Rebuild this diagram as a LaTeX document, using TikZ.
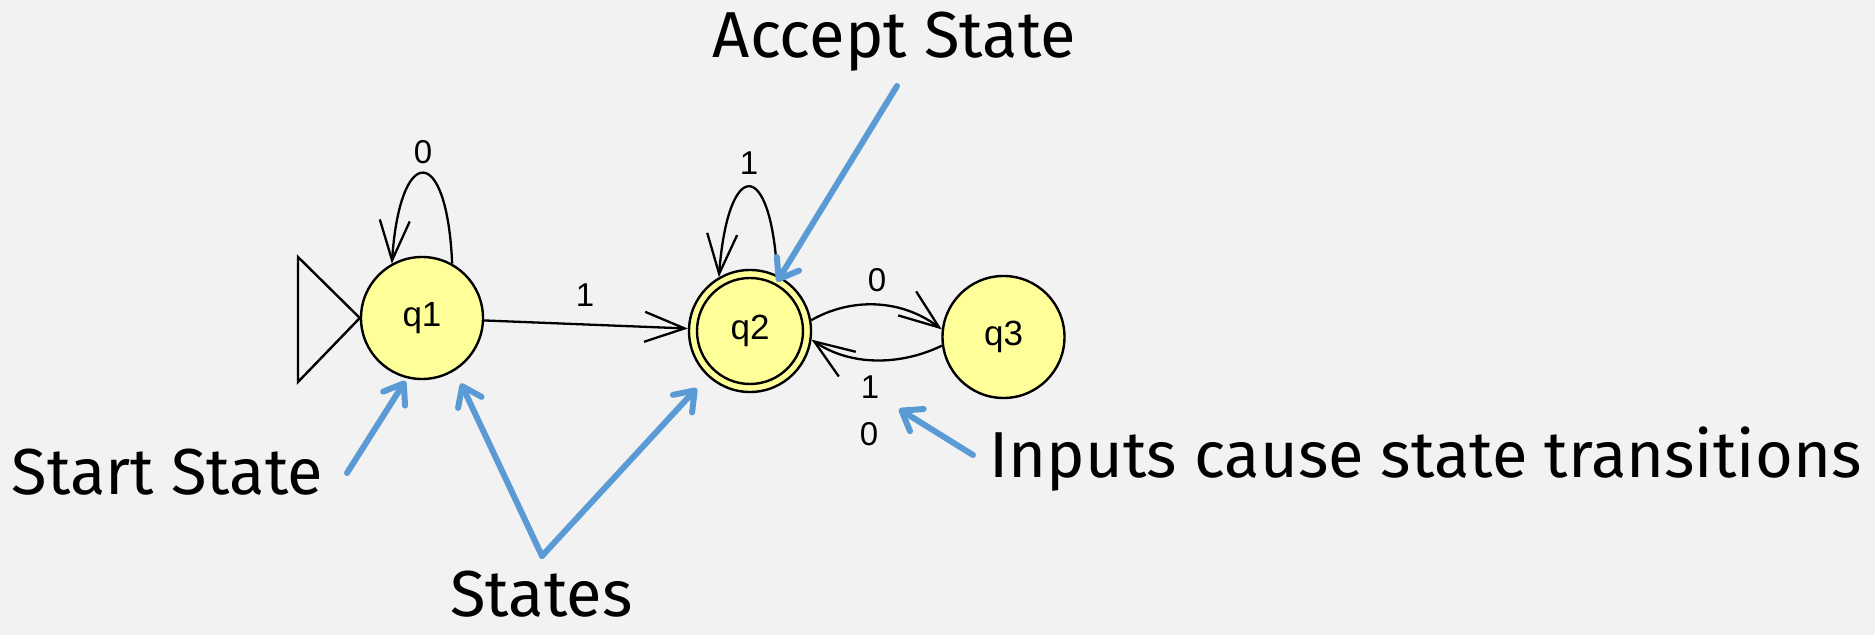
\documentclass[tikz,border=0pt]{standalone}
\usepackage{fontspec}
\setmainfont{Fira Sans}
\newfontfamily\arialfont{Liberation Sans}
\usetikzlibrary{arrows.meta}
\definecolor{bgc}{HTML}{F2F2F2}
\definecolor{statey}{HTML}{FFFF99}
\definecolor{annblue}{HTML}{5B9BD5}
\begin{document}
\begin{tikzpicture}[x=0.5pt,y=-0.5pt,
  state/.style={circle, draw=black, line width=1.2pt, fill=statey, minimum size=61pt, inner sep=0pt, font=\arialfont\fontsize{17.5}{17.5}\selectfont},
  innerring/.style={circle, draw=black, line width=1.2pt, minimum size=53pt, inner sep=0pt},
  edge/.style={draw=black, line width=1.15pt, -{Straight Barb[length=20pt,width=15pt]}},
  elabel/.style={font=\arialfont\fontsize{16.5}{16.5}\selectfont, inner sep=0pt},
  ann/.style={font=\fontsize{32.5}{36}\selectfont, inner sep=0pt, anchor=base},
  annarrow/.style={draw=annblue, line width=3pt, line cap=round, -{Straight Barb[length=9pt,width=13pt,round]}}]

\fill[bgc] (0,0) rectangle (1875,635);
\useasboundingbox (0,0) rectangle (1875,635);

% states
\node[state] (q1) at (422,318) {q1};
\node[state] (q2) at (750,331) {q2};
\node[innerring] (q2in) at (q2) {};
\node[state] (q3) at (1003.5,337) {q3};

% start marker
\coordinate (tA) at (298,257);
\coordinate (tB) at (298,382);
\draw[line width=1.2pt, line join=miter] (tA) -- (q1.west) -- (tB) -- cycle;

% transitions
\draw[edge] (q1) -- (q2);
\draw[edge] (q1.61) .. controls (447,143) and (400,143) .. (q1.119);
\draw[edge] (q2.64) .. controls (771,157) and (728,157) .. (q2.120);
\draw[edge] (q2.10) .. controls (850,298) and (900,298) .. (q3.173);
\draw[edge] (q3.188) .. controls (900,366) and (850,366) .. (q2.352);

% edge labels
\node[elabel] (l11) at (585,295) {1};
\node[elabel] (l10) at (423,152) {0};
\node[elabel] (l21) at (749,163) {1};
\node[elabel] (l23) at (877,280) {0};
\node[elabel] (l32a) at (870,387) {1};
\node[elabel] (l32b) at (869,434) {0};

% annotations
\node[ann] (acc) at (894.5,58) {Accept State};
\node[ann] (start) at (167.5,495) {Start State};
\node[ann] (sts) at (541.5,617) {States};
\node[ann] (inp) at (1425.5,478) {Inputs cause state transitions};

\coordinate (accTail) at (897,86);
\coordinate (startTail) at (347,473);
\coordinate (stsV) at (542,556);
\coordinate (inpTail) at (973,455);
\coordinate (inpTip) at (899,409);

\draw[annarrow, shorten >=-3pt] (accTail) -- (q2.61);
\draw[annarrow, shorten >=1.5pt] (startTail) -- (q1.256);
\draw[annarrow, shorten >=7pt] (stsV) -- (q1.302);
\draw[annarrow, shorten >=8pt] (stsV) -- (q2.227);
\draw[annarrow] (inpTail) -- (inpTip);
\end{tikzpicture}
\end{document}
